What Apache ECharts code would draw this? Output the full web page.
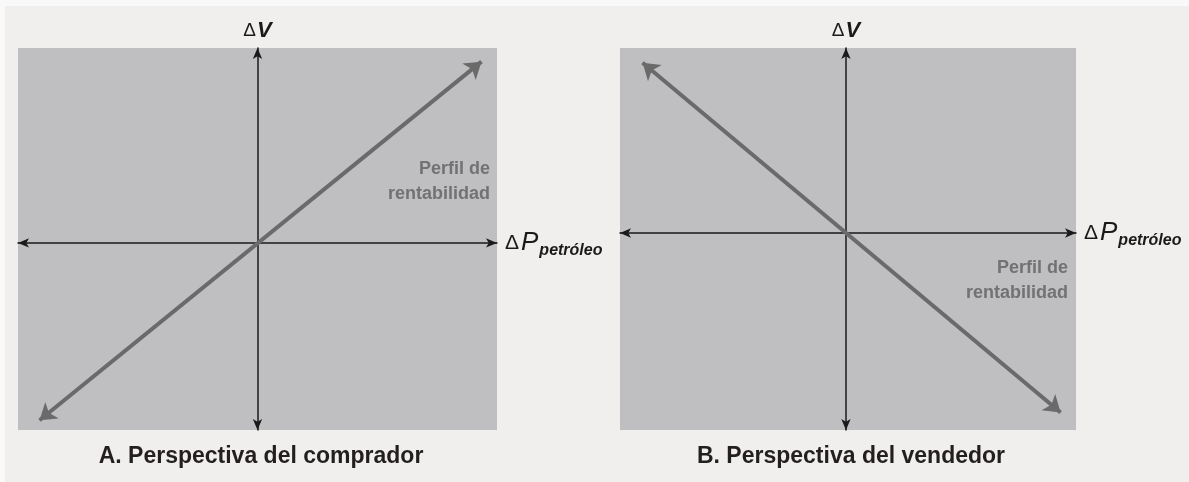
<!DOCTYPE html>
<html>
<head>
<meta charset="utf-8">
<script src="https://cdn.jsdelivr.net/npm/echarts@6/dist/echarts.min.js"></script>
<style>
  html, body { margin: 0; padding: 0; background: #f0efed; }
  #chart { width: 1189px; height: 482px; }
</style>
</head>
<body>
<div id="chart"></div>
<script>
// payoff lines (ends of the arrows), in axis units
var buyerLine = [[-0.91, -0.91], [0.935, 0.93]];
var sellerLine = [[-0.9, 0.92], [0.95, -0.97]];
var titles = ['A. Perspectiva del comprador', 'B. Perspectiva del vendedor'];
var profileLabel = 'Perfil de\nrentabilidad';

var chart = echarts.init(document.getElementById('chart'));

var fontFam = '"Liberation Sans", Arial, Helvetica, sans-serif';

function axisLine() {
  return {
    show: true,
    onZero: true,
    symbol: ['arrow', 'arrow'],
    symbolSize: [7, 11],
    lineStyle: { color: '#1a1a1a', width: 1.5 }
  };
}

var xName = '{d|Δ}{p|P}{s|petróleo}';
var xRich = {
  d: { fontSize: 21, color: '#1a1a1a', fontFamily: fontFam },
  p: { fontSize: 26, fontStyle: 'italic', color: '#1a1a1a', fontFamily: fontFam, padding: [0, 1, 0, 2] },
  s: { fontSize: 16, fontStyle: 'italic', fontWeight: 'bold', color: '#1a1a1a', fontFamily: fontFam, padding: [16, 0, 0, 0] }
};
var yName = '{d|Δ}{v|V}';
var yRich = {
  d: { fontSize: 19, color: '#1a1a1a', fontFamily: fontFam },
  v: { fontSize: 22, fontStyle: 'italic', fontWeight: 'bold', color: '#1a1a1a', fontFamily: fontFam, padding: [0, 0, 0, 1] }
};

function xAxis(idx, max) {
  return {
    gridIndex: idx, type: 'value', min: -1, max: max,
    axisLine: axisLine(), axisTick: { show: false }, axisLabel: { show: false }, splitLine: { show: false },
    name: xName, nameLocation: 'end', nameGap: 8,
    nameTextStyle: { rich: xRich, align: 'left', verticalAlign: 'middle' }
  };
}
function yAxis(idx, min) {
  return {
    gridIndex: idx, type: 'value', min: min, max: 1,
    axisLine: axisLine(), axisTick: { show: false }, axisLabel: { show: false }, splitLine: { show: false },
    name: yName, nameLocation: 'end', nameGap: 6,
    nameTextStyle: { rich: yRich, align: 'center' }
  };
}

function payoff(idx, pts) {
  return {
    type: 'lines',
    coordinateSystem: 'cartesian2d',
    xAxisIndex: idx, yAxisIndex: idx,
    symbol: ['arrow', 'arrow'],
    symbolSize: 16,
    lineStyle: { color: '#6a6a6b', width: 4, opacity: 1 },
    data: [{ coords: pts }],
    silent: true
  };
}

var titleStyle = { fontSize: 23, fontWeight: 'bold', color: '#231f20', fontFamily: fontFam };

chart.setOption({
  backgroundColor: '#f0efed',
  animation: false,
  grid: [
    { left: 18, top: 48, width: 479, height: 382, show: true, backgroundColor: '#bfbfc1', borderWidth: 0 },
    { left: 620, top: 48, width: 456, height: 382, show: true, backgroundColor: '#bfbfc1', borderWidth: 0 }
  ],
  xAxis: [xAxis(0, 1), xAxis(1, 1.018)],
  yAxis: [yAxis(0, -0.96), yAxis(1, -1.065)],
  title: [
    { text: titles[0], left: 256, top: 440, textAlign: 'center', textStyle: titleStyle },
    { text: titles[1], left: 846, top: 440, textAlign: 'center', textStyle: titleStyle }
  ],
  graphic: [
    { type: 'rect', left: 0, top: 0, shape: { width: 1189, height: 6 }, style: { fill: '#f9f9f9' }, silent: true },
    { type: 'rect', left: 0, top: 0, shape: { width: 5, height: 482 }, style: { fill: '#f9f9f9' }, silent: true },
    { type: 'text', x: 490, y: 157, silent: true,
      style: { text: profileLabel, align: 'right', fontSize: 18, fontWeight: 'bold', lineHeight: 25, fill: '#727273', fontFamily: fontFam } },
    { type: 'text', x: 1068, y: 256, silent: true,
      style: { text: profileLabel, align: 'right', fontSize: 18, fontWeight: 'bold', lineHeight: 25, fill: '#727273', fontFamily: fontFam } }
  ],
  series: [payoff(0, buyerLine), payoff(1, sellerLine)]
});
</script>
</body>
</html>
